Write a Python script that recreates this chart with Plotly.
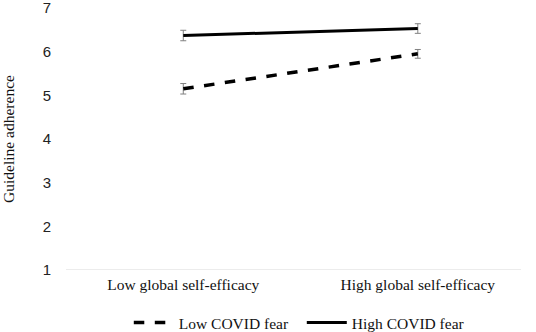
import plotly.graph_objects as go

categories = ["Low global self-efficacy", "High global self-efficacy"]
low_fear = [5.15, 5.95]
low_fear_err = [0.12, 0.10]
high_fear = [6.37, 6.53]
high_fear_err = [0.12, 0.11]
y_ticks = [1, 2, 3, 4, 5, 6, 7]

fig = go.Figure()
fig.add_trace(go.Scatter(
    x=[0, 1], y=low_fear, mode="lines", name="Low COVID fear",
    line=dict(color="black", width=3.5, dash="dash"),
    error_y=dict(type="data", array=low_fear_err, color="#808080", thickness=1, width=3),
))
fig.add_trace(go.Scatter(
    x=[0, 1], y=high_fear, mode="lines", name="High COVID fear",
    line=dict(color="black", width=3),
    error_y=dict(type="data", array=high_fear_err, color="#808080", thickness=1, width=3),
))

fig.update_layout(
    width=536, height=332,
    margin=dict(l=66, r=15, t=8, b=62, autoexpand=False),
    plot_bgcolor="white", paper_bgcolor="white",
    showlegend=True,
    legend=dict(orientation="h", x=0.138, xanchor="left", y=-0.137, yanchor="top",
                font=dict(family="Liberation Serif", size=15.5, color="#111"),
                itemwidth=40, entrywidth=118, entrywidthmode="pixels"),
    xaxis=dict(range=[-0.5, 1.44], tickmode="array", tickvals=[0, 1], ticktext=categories,
               showgrid=False, zeroline=False, showline=False, ticks="", automargin=False,
               ticklabelstandoff=3,
               tickfont=dict(family="Liberation Serif", size=15.5, color="#111")),
    yaxis=dict(range=[1, 7], tickvals=y_ticks, showgrid=False, zeroline=False,
               showline=False, ticks="", ticklabelstandoff=14, automargin=False,
               ticklabeloverflow="allow",
               tickfont=dict(family="Liberation Sans", size=15, color="#222"),
               title=dict(text="Guideline adherence", standoff=32,
                          font=dict(family="Liberation Serif", size=15.5, color="#111"))),
)
fig.add_shape(type="line", xref="paper", yref="y", x0=0, x1=1, y0=1, y1=1,
              line=dict(color="#d9d9d9", width=1))
fig.write_html("out.html", config={"displayModeBar": False},
               post_script="document.body.style.margin='0';")
